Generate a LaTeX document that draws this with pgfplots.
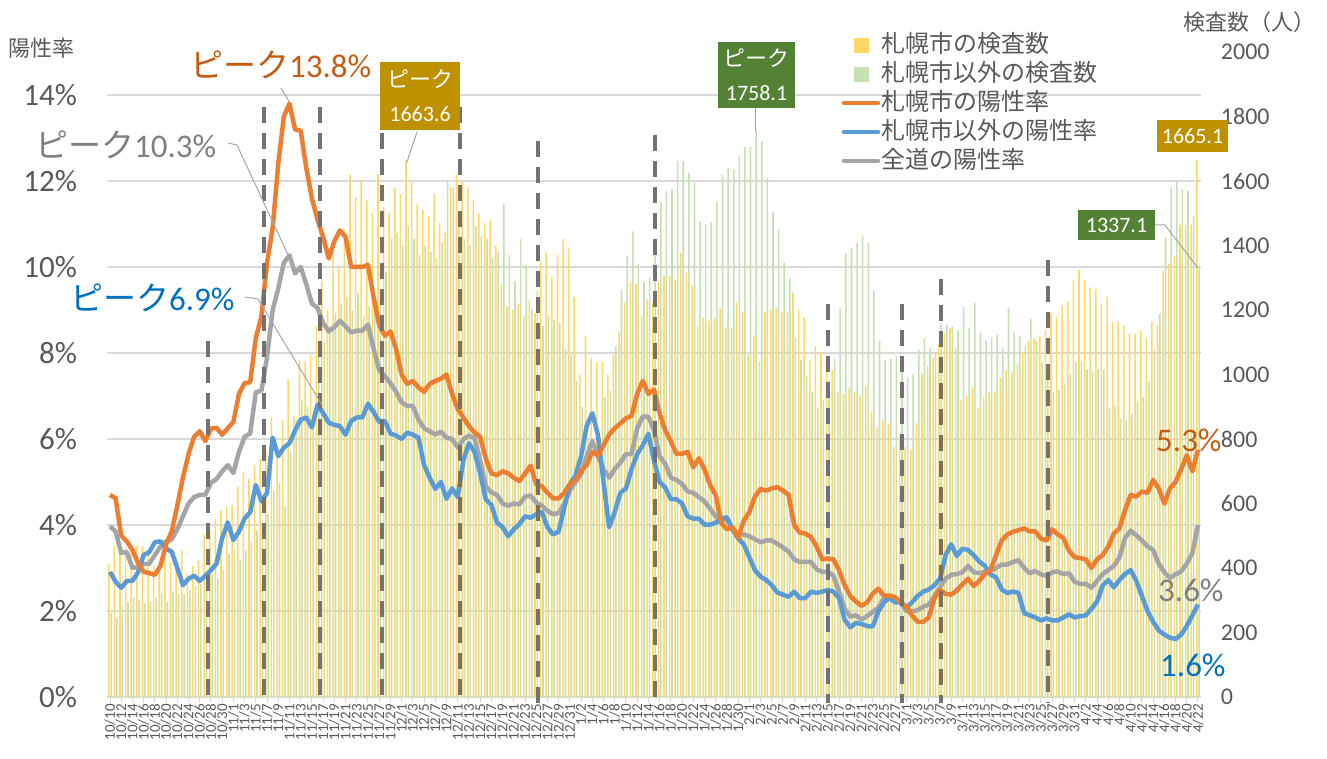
\documentclass[border=0pt]{standalone}
\usepackage{fontspec}
\setmainfont{Carlito}
\newfontfamily\jp{Noto Sans CJK JP}
\usepackage{pgfplots}
\usepackage{pgfplotstable}
\pgfplotsset{compat=1.18}
\definecolor{cY}{HTML}{FFD966}
\definecolor{cG}{HTML}{C5E0B4}
\definecolor{cO}{HTML}{ED7D31}
\definecolor{cB}{HTML}{5B9BD5}
\definecolor{cA}{HTML}{A5A5A5}
\definecolor{tx}{HTML}{595959}
\definecolor{grd}{HTML}{D9D9D9}
\definecolor{dsh}{HTML}{767171}
\definecolor{bxG}{HTML}{548235}
\definecolor{bxY}{HTML}{BF9000}
\definecolor{tO}{HTML}{C55A11}
\definecolor{tB}{HTML}{0070C0}
\definecolor{tA}{HTML}{7F7F7F}
\definecolor{ld}{HTML}{A6A6A6}

\pgfplotstableread{
i o b a
0 4.70 2.91 3.97
1 4.62 2.68 3.85
2 3.75 2.54 3.35
3 3.62 2.70 3.37
4 3.42 2.70 3.00
5 3.12 2.90 3.02
6 2.91 3.30 3.09
7 2.88 3.37 3.10
8 2.84 3.60 3.30
9 3.05 3.62 3.50
10 3.55 3.45 3.62
11 3.85 3.38 3.66
12 4.45 3.00 3.90
13 5.10 2.60 4.20
14 5.65 2.75 4.50
15 6.05 2.82 4.65
16 6.18 2.70 4.70
17 5.95 2.82 4.70
18 6.24 2.95 4.98
19 6.26 3.10 5.07
20 6.10 3.70 5.25
21 6.25 4.06 5.39
22 6.40 3.65 5.21
23 7.05 3.85 5.70
24 7.30 4.15 6.05
25 7.32 4.30 6.13
26 8.35 4.93 7.09
27 8.85 4.55 7.12
28 10.1 4.75 7.90
29 10.9 6.03 9.00
30 12.4 5.60 9.50
31 13.5 5.80 10.1
32 13.8 5.90 10.27
33 13.2 6.20 9.85
34 13.17 6.45 10.0
35 12.3 6.50 9.60
36 11.6 6.27 9.15
37 11.1 6.80 9.05
38 10.7 6.60 8.70
39 10.2 6.38 8.50
40 10.6 6.33 8.60
41 10.85 6.30 8.75
42 10.7 6.10 8.62
43 10.0 6.42 8.48
44 10.0 6.50 8.52
45 10.0 6.50 8.52
46 10.05 6.82 8.66
47 9.30 6.63 8.10
48 8.65 6.40 7.60
49 8.40 6.42 7.46
50 8.50 6.13 7.30
51 8.10 6.08 7.10
52 7.50 6.00 6.85
53 7.28 6.15 6.77
54 7.35 6.10 6.77
55 7.20 6.03 6.45
56 7.10 5.40 6.25
57 7.28 5.10 6.18
58 7.35 4.84 6.10
59 7.40 5.00 6.17
60 7.50 4.61 6.03
61 7.05 4.85 6.00
62 6.70 4.65 5.80
63 6.50 5.50 5.99
64 6.30 5.90 6.08
65 6.15 5.70 6.02
66 6.05 5.20 5.50
67 5.55 4.60 4.90
68 5.20 4.47 4.76
69 5.16 4.06 4.70
70 5.25 3.95 4.50
71 5.20 3.74 4.45
72 5.10 3.90 4.50
73 5.02 4.02 4.48
74 5.20 4.20 4.66
75 5.38 4.17 4.68
76 4.95 4.25 4.52
77 4.90 4.30 4.45
78 4.75 3.95 4.33
79 4.62 3.78 4.25
80 4.62 3.85 4.28
81 4.75 4.40 4.50
82 4.95 4.95 4.80
83 5.05 5.15 5.00
84 5.25 5.60 5.18
85 5.40 6.30 5.60
86 5.70 6.60 5.95
87 5.62 6.10 5.60
88 5.85 5.00 5.30
89 6.10 3.95 5.10
90 6.25 4.30 5.30
91 6.36 4.75 5.45
92 6.48 4.85 5.65
93 6.54 5.30 5.65
94 7.05 5.65 6.25
95 7.35 5.85 6.52
96 7.05 6.12 6.52
97 7.15 5.50 6.20
98 6.60 5.00 5.60
99 6.20 4.87 5.42
100 5.95 4.60 5.10
101 5.65 4.60 5.05
102 5.66 4.50 4.95
103 5.70 4.20 4.78
104 5.34 4.15 4.75
105 5.55 4.15 4.65
106 5.30 4.01 4.55
107 4.93 4.01 4.38
108 4.70 4.05 4.20
109 4.05 4.15 4.10
110 3.90 4.18 4.13
111 3.95 3.90 3.90
112 3.70 3.69 3.80
113 4.10 3.55 3.78
114 4.30 3.25 3.74
115 4.66 2.95 3.67
116 4.84 2.80 3.60
117 4.80 2.72 3.64
118 4.85 2.60 3.64
119 4.88 2.43 3.56
120 4.80 2.38 3.48
121 4.70 2.33 3.38
122 4.00 2.45 3.20
123 3.82 2.30 3.14
124 3.80 2.30 3.14
125 3.72 2.45 3.14
126 3.50 2.42 2.97
127 3.20 2.45 2.91
128 3.22 2.49 2.91
129 3.20 2.45 2.82
130 2.95 2.30 2.45
131 2.60 1.80 2.05
132 2.35 1.62 1.87
133 2.22 1.72 1.90
134 2.12 1.70 1.80
135 2.20 1.65 1.88
136 2.40 1.64 1.98
137 2.52 1.99 2.08
138 2.35 2.20 2.30
139 2.36 2.30 2.35
140 2.32 2.20 2.25
141 2.20 2.20 2.20
142 2.10 2.08 2.00
143 1.90 2.20 1.99
144 1.75 2.35 2.02
145 1.75 2.45 2.10
146 1.85 2.50 2.15
147 2.30 2.60 2.35
148 2.49 2.75 2.55
149 2.40 3.30 2.75
150 2.38 3.55 2.84
151 2.48 3.28 2.86
152 2.62 3.45 2.90
153 2.75 3.42 3.05
154 2.58 3.30 2.90
155 2.70 3.15 2.88
156 2.86 3.05 2.91
157 2.95 2.85 2.93
158 3.30 2.78 3.00
159 3.64 2.50 3.08
160 3.78 2.42 3.08
161 3.84 2.45 3.14
162 3.88 2.42 3.18
163 3.92 1.95 3.00
164 3.85 1.90 2.88
165 3.85 1.85 2.93
166 3.68 1.78 2.85
167 3.64 1.83 2.82
168 3.90 1.78 2.90
169 3.78 1.78 2.92
170 3.70 1.85 2.86
171 3.40 1.92 2.88
172 3.25 1.85 2.68
173 3.23 1.88 2.63
174 3.20 1.90 2.63
175 3.00 2.05 2.54
176 3.20 2.22 2.70
177 3.30 2.59 2.86
178 3.50 2.72 2.95
179 3.80 2.55 3.05
180 3.92 2.72 3.25
181 4.35 2.86 3.70
182 4.70 2.95 3.87
183 4.66 2.70 3.76
184 4.78 2.35 3.64
185 4.75 2.00 3.50
186 5.05 1.75 3.42
187 4.85 1.55 3.10
188 4.50 1.45 2.90
189 4.85 1.38 2.77
190 5.00 1.35 2.85
191 5.30 1.45 2.92
192 5.62 1.65 3.10
193 5.25 1.90 3.35
194 5.75 2.15 4.00
}\rates

\pgfplotstableread{
i y g
0 412 259
1 468 247
2 449 283
3 461 296
4 455 308
5 468 302
6 468 290
7 443 296
8 406 308
9 412 320
10 449 296
11 419 326
12 425 320
13 455 320
14 382 333
15 406 345
16 425 351
17 504 369
18 517 382
19 553 369
20 578 394
21 590 443
22 596 455
23 652 425
24 695 455
25 676 480
26 719 517
27 738 529
28 762 566
29 867 640
30 750 664
31 860 590
32 983 762
33 873 860
34 1045 922
35 1040 900
36 1060 880
37 1150 1060
38 1290 1100
39 1200 1150
40 1380 1190
41 1330 1220
42 1450 1240
43 1620 1200
44 1550 1250
45 1600 1180
46 1540 1210
47 1500 1240
48 1620 1260
49 1520 1320
50 1500 1420
51 1580 1440
52 1560 1400
53 1664 1460
54 1600 1420
55 1530 1370
56 1510 1400
57 1490 1380
58 1560 1360
59 1470 1410
60 1440 1600
61 1580 1580
62 1620 1470
63 1600 1420
64 1580 1400
65 1540 1460
66 1500 1430
67 1470 1420
68 1480 1360
69 1400 1380
70 1280 1530
71 1210 1370
72 1200 1290
73 1220 1420
74 1180 1340
75 1230 1200
76 1190 1260
77 1350 1150
78 1380 1180
79 1300 1170
80 1370 1160
81 1420 1080
82 1390 1060
83 1240 980
84 1000 900
85 1120 800
86 1050 760
87 1040 720
88 1040 930
89 1000 950
90 1060 1087
91 1133 1264
92 1223 1367
93 1286 1444
94 1280 1342
95 1180 1289
96 1233 1301
97 1223 1394
98 1289 1537
99 1307 1568
100 1305 1574
101 1295 1662
102 1378 1662
103 1316 1626
104 1274 1595
105 1150 1475
106 1176 1466
107 1166 1471
108 1176 1537
109 1204 1618
110 1146 1640
111 1145 1636
112 1223 1677
113 1194 1705
114 1060 1705
115 1121 1758
116 1040 1724
117 1195 1609
118 1201 1503
119 1207 1450
120 1194 1348
121 1194 1298
122 1254 1115
123 1201 1045
124 1178 995
125 1045 946
126 1087 897
127 1069 922
128 1032 983
129 1014 1050
130 946 1204
131 940 1376
132 959 1394
133 946 1407
134 934 1431
135 965 1407
136 885 1259
137 836 1106
138 860 1045
139 848 1050
140 775 1057
141 811 1008
142 775 990
143 768 1000
144 850 1075
145 1001 1112
146 1026 1081
147 1051 1069
148 1094 1161
149 1130 1155
150 1143 1149
151 1081 1137
152 922 1210
153 934 1143
154 960 1222
155 897 1130
156 930 1106
157 946 1112
158 946 1124
159 990 1081
160 1014 1207
161 1008 1130
162 1032 1119
163 1069 1088
164 1106 1173
165 1112 1104
166 1118 1037
167 1140 1000
168 1191 948
169 1180 951
170 1214 969
171 1227 1000
172 1292 1040
173 1324 1041
174 1292 1015
175 1270 1010
176 1264 1018
177 1220 1015
178 1240 894
179 1164 906
180 1164 863
181 1152 860
182 1127 876
183 1127 916
184 1137 930
185 1112 979
186 1165 1075
187 1152 1189
188 1320 1426
189 1342 1580
190 1367 1600
191 1465 1575
192 1460 1570
193 1465 1490
194 1665 1337
}\tests

\begin{document}
\begin{tikzpicture}[x=1pt,y=1pt]
\useasboundingbox (0,0) rectangle (1327,758);
\pgfplotsset{base/.style={at={(107.2pt,61pt)}, anchor=south west, scale only axis,
  width=1093.6pt, height=645pt, xmin=-0.5, xmax=194.5}}
% ---- axis 1: grid, left % labels, date labels
\begin{axis}[base, ymin=0, ymax=15,
  ytick={0,2,...,14}, yticklabels={0\%,2\%,4\%,6\%,8\%,10\%,12\%,14\%},
  ymajorgrids, grid style={grd, line width=1.3pt},
  axis x line*=bottom, axis y line*=left,
  y axis line style={draw=none}, x axis line style={grd, line width=1.3pt, -},
  ytick style={draw=none},
  xtick={0,2,...,194},
  xticklabels={10/10,10/12,10/14,10/16,10/18,10/20,10/22,10/24,10/26,10/28,10/30,11/1,11/3,11/5,11/7,11/9,11/11,11/13,11/15,11/17,11/19,11/21,11/23,11/25,11/27,11/29,12/1,12/3,12/5,12/7,12/9,12/11,12/13,12/15,12/17,12/19,12/21,12/23,12/25,12/27,12/29,12/31,1/2,1/4,1/6,1/8,1/10,1/12,1/14,1/16,1/18,1/20,1/22,1/24,1/26,1/28,1/30,2/1,2/3,2/5,2/7,2/9,2/11,2/13,2/15,2/17,2/19,2/21,2/23,2/25,2/27,3/1,3/3,3/5,3/7,3/9,3/11,3/13,3/15,3/17,3/19,3/21,3/23,3/25,3/27,3/29,3/31,4/2,4/4,4/6,4/8,4/10,4/12,4/14,4/16,4/18,4/20,4/22},
  xtick style={grd, line width=1pt}, tick align=outside, major tick length=6pt,
  xticklabel style={rotate=90, anchor=east, font=\fontsize{15}{15}\selectfont, text=tx, inner sep=1pt},
  yticklabel style={font=\fontsize{31}{31}\selectfont, text=tx, inner sep=0pt, anchor=east, xshift=-24pt},
]
\addplot[draw=none, forget plot] coordinates {(0,0)};
\end{axis}
% ---- axis 2: test counts (bars), right axis
\begin{axis}[base, ymin=0, ymax=2000,
  axis x line=none, axis y line*=right, y axis line style={draw=none},
  xtick=\empty, ytick={0,200,...,2000},
  yticklabels={0,200,400,600,800,1000,1200,1400,1600,1800,2000},
  ytick style={draw=none},
  yticklabel style={font=\fontsize{24}{24}\selectfont, text=tx, inner sep=0pt, anchor=west, xshift=20pt},
]
\addplot[ybar, bar width=1.6pt, bar shift=-1.2pt, fill=cY, draw=none] table[x=i, y=y]{\tests};
\addplot[ybar, bar width=1.6pt, bar shift=1.2pt, fill=cG, draw=none] table[x=i, y=g]{\tests};
\end{axis}
% ---- axis 3: positivity lines, markers
\begin{axis}[base, ymin=0, ymax=15, hide axis, clip=false,
  legend style={at={(0.6715,1.034)}, anchor=north west, draw=none, fill=none,
    font=\jp\fontsize{24}{24}\selectfont, text=tx, row sep=0pt, inner sep=0pt,
    nodes={inner sep=1pt, text height=21pt, text depth=6pt}},
  legend cell align=left,
]
\addlegendimage{legend image code/.code={\fill[cY] (10pt,-7pt) rectangle (24pt,7pt);}}
\addlegendentry{札幌市の検査数}
\addlegendimage{legend image code/.code={\fill[cG] (10pt,-7pt) rectangle (24pt,7pt);}}
\addlegendentry{札幌市以外の検査数}
\addlegendimage{legend image code/.code={\draw[cO, line width=4.5pt, line cap=round] (0pt,0pt) -- (34pt,0pt);}}
\addlegendentry{札幌市の陽性率}
\addlegendimage{legend image code/.code={\draw[cB, line width=4.5pt, line cap=round] (0pt,0pt) -- (34pt,0pt);}}
\addlegendentry{札幌市以外の陽性率}
\addlegendimage{legend image code/.code={\draw[cA, line width=4.5pt, line cap=round] (0pt,0pt) -- (34pt,0pt);}}
\addlegendentry{全道の陽性率}
\addplot[cA, line width=4.5pt, line join=round, forget plot] table[x=i, y=a]{\rates};
\addplot[cB, line width=4.5pt, line join=round, forget plot] table[x=i, y=b]{\rates};
\addplot[cO, line width=4.5pt, line join=round, forget plot] table[x=i, y=o]{\rates};
\addplot[dsh, line width=4pt, dash pattern=on 16pt off 10pt, forget plot] coordinates {(17.53,8.29) (17.53,-0.15)};
\addplot[dsh, line width=4pt, dash pattern=on 16pt off 10pt, forget plot] coordinates {(27.51,13.72) (27.51,-0.15)};
\addplot[dsh, line width=4pt, dash pattern=on 16pt off 10pt, forget plot] coordinates {(37.45,13.72) (37.45,-0.15)};
\addplot[dsh, line width=4pt, dash pattern=on 16pt off 10pt, forget plot] coordinates {(48.45,13.72) (48.45,-0.15)};
\addplot[dsh, line width=4pt, dash pattern=on 16pt off 10pt, forget plot] coordinates {(62.41,13.72) (62.41,-0.15)};
\addplot[dsh, line width=4pt, dash pattern=on 16pt off 10pt, forget plot] coordinates {(76.37,12.93) (76.37,-0.15)};
\addplot[dsh, line width=4pt, dash pattern=on 16pt off 10pt, forget plot] coordinates {(97.18,13.07) (97.18,-0.15)};
\addplot[dsh, line width=4pt, dash pattern=on 16pt off 10pt, forget plot] coordinates {(128.08,9.14) (128.08,-0.15)};
\addplot[dsh, line width=4pt, dash pattern=on 16pt off 10pt, forget plot] coordinates {(141.17,9.14) (141.17,-0.15)};
\addplot[dsh, line width=4pt, dash pattern=on 16pt off 10pt, forget plot] coordinates {(148.13,9.71) (148.13,-0.15)};
\addplot[dsh, line width=4pt, dash pattern=on 16pt off 10pt, forget plot] coordinates {(167.21,10.17) (167.21,-0.15)};
\end{axis}
% ---- titles
\node[text=tx, font=\jp\fontsize{22}{22}\selectfont] at (42,710) {陽性率};
\node[text=tx, font=\jp\fontsize{22}{22}\selectfont] at (1249,736) {検査数（人）};
% ---- leader lines
\draw[ld, line width=1pt] (281,670) -- (290,655);
\draw[ld, line width=1pt] (228,615) -- (237,613) -- (289,501);
\draw[ld, line width=1pt] (245,461) -- (258,459) -- (322,353);
\draw[ld, line width=1pt] (417,626) -- (407,596);
\draw[ld, line width=1pt] (755,650) -- (755,627);
\draw[ld, line width=1pt] (1155,533) -- (1165,533) -- (1198,490);
% ---- annotations
\node[anchor=west, text=tO, inner sep=0pt, font=\fontsize{33}{33}\selectfont] at (190,693) {{\jp ピーク}13.8\%};
\node[anchor=west, text=tA, inner sep=0pt, font=\fontsize{33}{33}\selectfont] at (35,613) {{\jp ピーク}10.3\%};
\node[anchor=west, text=tB, inner sep=0pt, font=\fontsize{33}{33}\selectfont] at (70,460) {{\jp ピーク}6.9\%};
\node[fill=bxY, text=white, align=center, minimum width=80pt, minimum height=68pt, inner sep=0pt, font=\fontsize{22}{34}\selectfont] at (420,662) {{\jp ピーク}\\1663.6};
\node[fill=bxG, text=white, align=center, minimum width=77pt, minimum height=66pt, inner sep=0pt, font=\fontsize{22}{34}\selectfont] at (756.5,683) {{\jp ピーク}\\1758.1};
\node[fill=bxG, text=white, minimum width=77pt, minimum height=30pt, inner sep=0pt, font=\fontsize{22}{22}\selectfont] at (1116.5,533) {1337.1};
\node[fill=bxY, text=white, minimum width=71pt, minimum height=32pt, inner sep=0pt, font=\fontsize{22}{22}\selectfont] at (1192.5,622) {1665.1};
\node[anchor=west, text=tO, inner sep=0pt, font=\fontsize{33}{33}\selectfont] at (1156,318) {5.3\%};
\node[anchor=west, text=tA, inner sep=0pt, font=\fontsize{33}{33}\selectfont] at (1158,168) {3.6\%};
\node[anchor=west, text=tB, inner sep=0pt, font=\fontsize{33}{33}\selectfont] at (1160,93) {1.6\%};
\end{tikzpicture}
\end{document}
